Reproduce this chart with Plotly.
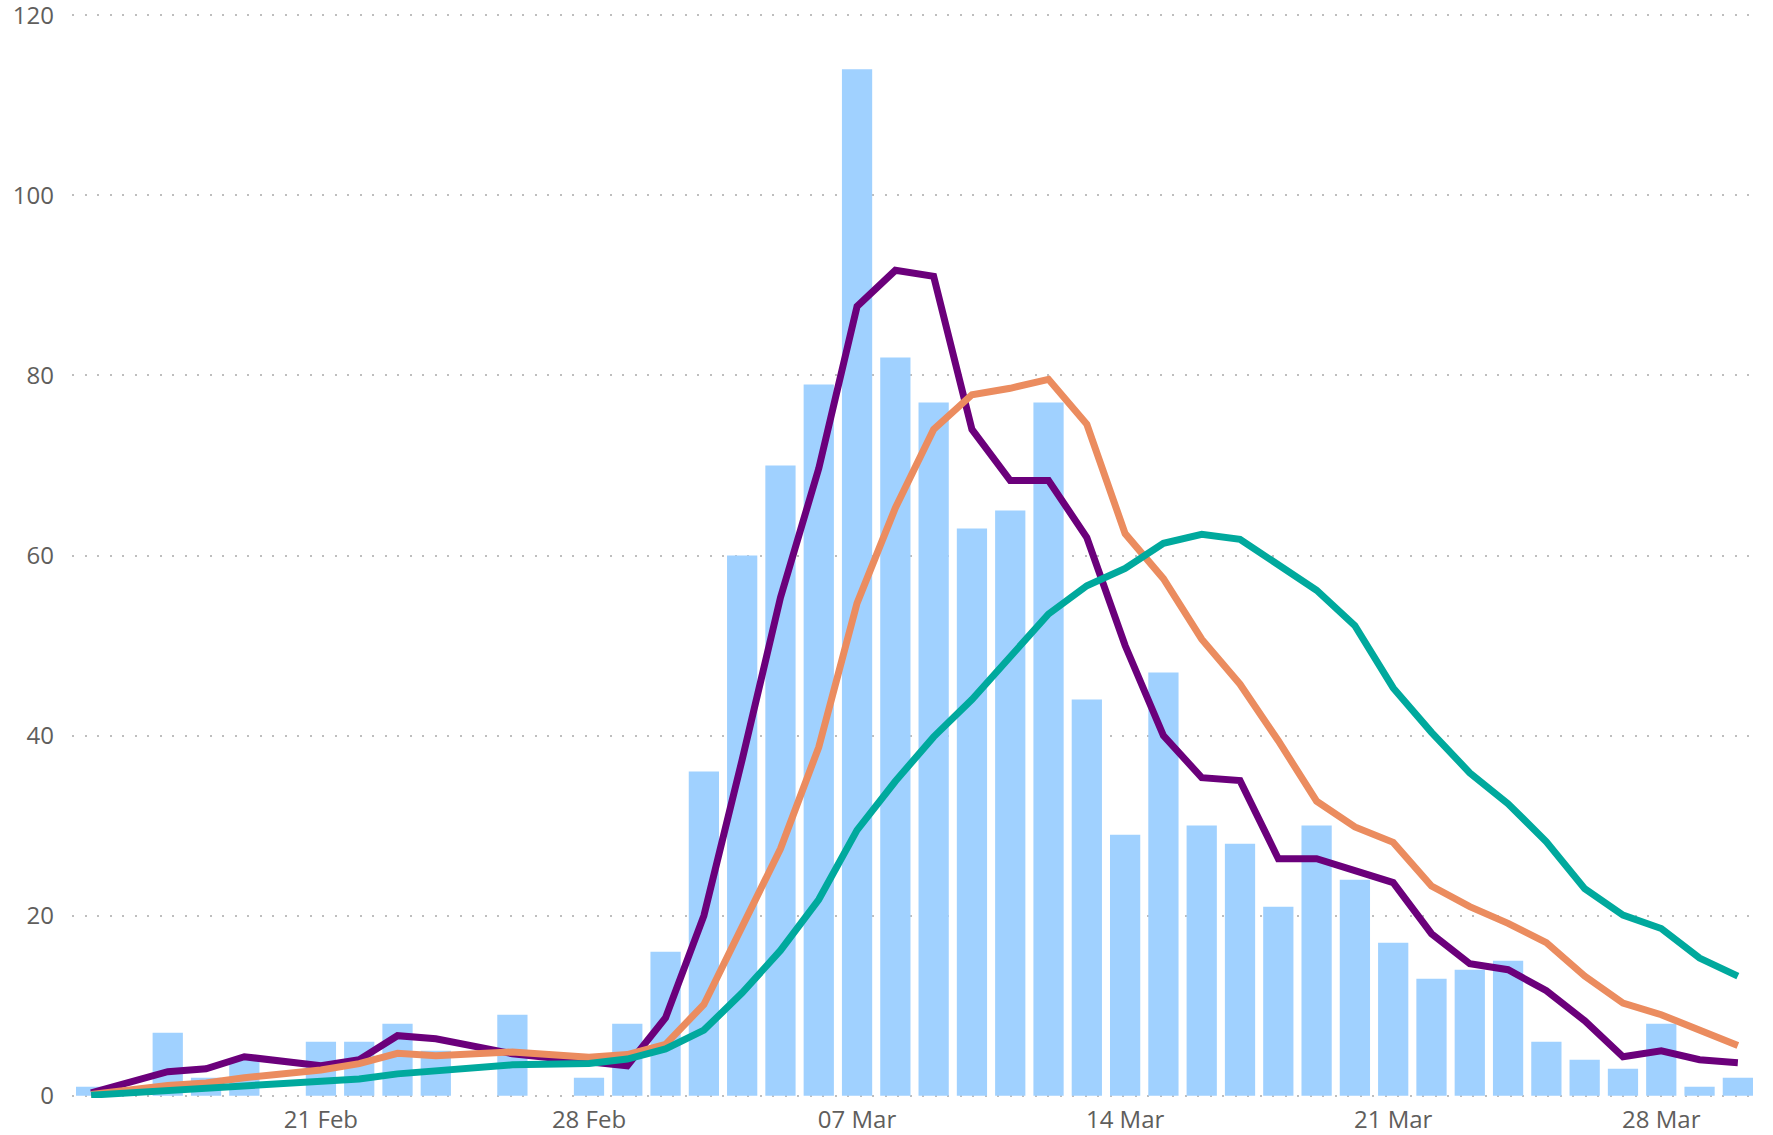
import plotly.graph_objects as go

# Dates with data (no data on 16 Feb, 20 Feb, 25 Feb, 27 Feb)
dates = ["2021-02-15", "2021-02-17", "2021-02-18", "2021-02-19", "2021-02-21", "2021-02-22",
         "2021-02-23", "2021-02-24", "2021-02-26", "2021-02-28", "2021-03-01", "2021-03-02",
         "2021-03-03", "2021-03-04", "2021-03-05", "2021-03-06", "2021-03-07", "2021-03-08",
         "2021-03-09", "2021-03-10", "2021-03-11", "2021-03-12", "2021-03-13", "2021-03-14",
         "2021-03-15", "2021-03-16", "2021-03-17", "2021-03-18", "2021-03-19", "2021-03-20",
         "2021-03-21", "2021-03-22", "2021-03-23", "2021-03-24", "2021-03-25", "2021-03-26",
         "2021-03-27", "2021-03-28", "2021-03-29", "2021-03-30"]

daily = [1, 7, 2, 4, 6, 6, 8, 5, 9, 2, 8, 16, 36, 60, 70, 79, 114, 82, 77, 63, 65, 77, 44, 29,
         47, 30, 28, 21, 30, 24, 17, 13, 14, 15, 6, 4, 3, 8, 1, 2]

avg3 = [0.33, 2.67, 3.0, 4.33, 3.33, 4.0, 6.67, 6.33, 4.67, 3.67, 3.33, 8.67, 20.0, 37.33,
        55.33, 69.67, 87.67, 91.67, 91.0, 74.0, 68.33, 68.33, 62.0, 50.0, 40.0, 35.33, 35.0,
        26.33, 26.33, 25.0, 23.67, 18.0, 14.67, 14.0, 11.67, 8.33, 4.33, 5.0, 4.0, 3.67]

avg7 = [0.14, 1.14, 1.43, 2.0, 2.86, 3.57, 4.71, 4.43, 4.86, 4.29, 4.57, 5.71, 10.14, 18.71,
        27.43, 38.71, 54.71, 65.29, 74.0, 77.86, 78.57, 79.57, 74.57, 62.43, 57.43, 50.71,
        45.71, 39.43, 32.71, 29.86, 28.14, 23.29, 21.0, 19.14, 17.0, 13.29, 10.29, 9.0, 7.29, 5.57]

avg14 = [0.07, 0.57, 0.71, 1.0, 1.43, 1.86, 2.43, 2.79, 3.43, 3.57, 4.07, 5.21, 7.29, 11.43,
         16.14, 21.79, 29.5, 34.93, 39.86, 44.0, 48.64, 53.5, 56.64, 58.57, 61.36, 62.36,
         61.79, 59.0, 56.14, 52.21, 45.29, 40.36, 35.86, 32.43, 28.21, 23.0, 20.07, 18.57,
         15.29, 13.29]

tick_dates = ["2021-02-21", "2021-02-28", "2021-03-07", "2021-03-14", "2021-03-21", "2021-03-28"]
tick_labels = ["21 Feb", "28 Feb", "07 Mar", "14 Mar", "21 Mar", "28 Mar"]
y_ticks = [0, 20, 40, 60, 80, 100, 120]

BAR = "#A0D1FF"
PURPLE = "#6B007B"
ORANGE = "#EB8C5F"
TEAL = "#00A99D"
TXT = "#605E5C"
FONT = "Segoe UI, Open Sans, sans-serif"

fig = go.Figure()
fig.add_trace(go.Bar(x=dates, y=daily, marker=dict(color=BAR, line=dict(width=0)),
                     name="Daily"))
for vals, col, nm in [(avg3, PURPLE, "3-day"), (avg7, ORANGE, "7-day"), (avg14, TEAL, "14-day")]:
    fig.add_trace(go.Scatter(x=dates, y=vals, mode="lines", name=nm,
                             line=dict(color=col, width=7, shape="linear")))

fig.update_layout(
    width=1773, height=1135,
    margin=dict(l=72, r=16, t=13, b=37),
    paper_bgcolor="white", plot_bgcolor="white",
    showlegend=False, bargap=0.21,
    font=dict(family=FONT, size=24, color=TXT),
)
fig.update_xaxes(
    type="date", automargin=False,
    range=["2021-02-14 12:00", "2021-03-30 12:00"],
    tickvals=tick_dates, ticktext=tick_labels,
    showgrid=False, zeroline=False, showline=False, ticks="",
    ticklabelstandoff=5, ticklabeloverflow="allow",
    tickfont=dict(family=FONT, size=24, color=TXT),
)
fig.update_yaxes(
    automargin=False,
    range=[-0.25, 120.25], tickvals=y_ticks,
    showgrid=True, gridcolor="#BEBEBE", gridwidth=2, griddash="2px,10.5px",
    zeroline=False, showline=False, ticks="",
    ticklabelstandoff=17, ticklabeloverflow="allow",
    tickfont=dict(family=FONT, size=24, color=TXT),
)

fig.write_html(
    "out.html",
    config={"displayModeBar": False},
    post_script="document.body.style.margin='0';document.body.style.overflow='hidden';",
)
